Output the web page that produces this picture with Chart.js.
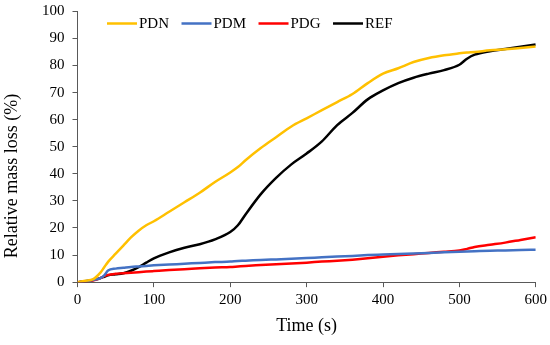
<!DOCTYPE html>
<html>
<head>
<meta charset="utf-8">
<script src="https://cdn.jsdelivr.net/npm/chart.js@4.4.0/dist/chart.umd.min.js"></script>
<style>
  html, body { margin: 0; padding: 0; background: #fff; }
  #wrap { width: 550px; height: 345px; }
</style>
</head>
<body>
<div id="wrap"><canvas id="massChart" width="550" height="345"></canvas></div>
<script>
// time points (s) shared by all series
const times = [0, 10, 20, 30, 35, 40, 50, 60, 70, 80, 90, 100, 120, 140, 160, 180, 200, 210, 220, 240,
  260, 280, 300, 320, 340, 360, 380, 400, 420, 440, 460, 480, 500, 510, 520, 540, 560, 580, 600];

const pdn = [0, 0.5, 1, 3.5, 5.5, 7.5, 10.5, 13.5, 16.5, 19, 21, 22.5, 26, 29.5, 33, 37, 40.5, 42.5, 45, 49.5,
  53.5, 57.5, 60.5, 63.5, 66.5, 69.5, 73.5, 77, 79, 81.3, 82.8, 83.8, 84.5, 84.8, 85, 85.6, 86, 86.5, 87];

const pdm = [0, 0.3, 0.8, 1.5, 2.5, 4.3, 5, 5.3, 5.6, 5.8, 6, 6.2, 6.5, 6.8, 7.1, 7.4, 7.6, 7.8, 7.9, 8.2,
  8.4, 8.6, 8.9, 9.2, 9.5, 9.7, 10, 10.2, 10.4, 10.6, 10.8, 11, 11.2, 11.3, 11.4, 11.6, 11.7, 11.9, 12];

const pdg = [0, 0.2, 0.6, 1.5, 2.2, 2.7, 3.1, 3.3, 3.5, 3.7, 3.9, 4.1, 4.5, 4.8, 5.1, 5.4, 5.6, 5.8, 6, 6.3,
  6.6, 6.9, 7.2, 7.6, 7.9, 8.3, 8.8, 9.4, 9.9, 10.3, 10.8, 11.2, 11.7, 12.3, 13, 13.8, 14.6, 15.6, 16.6];

const ref = [0, 0.3, 0.8, 1.5, 2, 2.5, 2.9, 3.3, 4.2, 5.5, 7.2, 8.8, 11, 12.7, 14, 15.8, 18.5, 21, 25, 32.5,
  38.5, 43.5, 47.5, 52, 58, 62.5, 67.5, 70.8, 73.5, 75.5, 77, 78.3, 80.3, 82.5, 84, 85.3, 86.1, 86.9, 87.8];

const seriesNames = ['PDN', 'PDM', 'PDG', 'REF'];
const seriesColors = ['#FFC000', '#4472C4', '#FF0000', '#000000'];

const FONT = "'Liberation Serif', 'Times New Roman', serif";
const AXIS = '#595959';

function toPoints(vals) {
  return times.map((t, i) => ({ x: t, y: vals[i] }));
}

// legend inside the plot + rotated y title, drawn like the Excel original
const extras = {
  id: 'extras',
  afterDraw(chart) {
    const ctx = chart.ctx;
    const area = chart.chartArea;
    ctx.save();
    ctx.font = '15px ' + FONT;
    ctx.textBaseline = 'middle';
    ctx.textAlign = 'left';
    let x = area.left + 29.5;
    const y = 23.5;
    chart.data.datasets.forEach(ds => {
      ctx.strokeStyle = ds.borderColor;
      ctx.lineWidth = 2.5;
      ctx.beginPath();
      ctx.moveTo(x, y);
      ctx.lineTo(x + 30, y);
      ctx.stroke();
      ctx.fillStyle = '#000';
      ctx.fillText(ds.label, x + 32, y + 1);
      x += 32 + ctx.measureText(ds.label).width + 12.5;
    });

    ctx.font = '18px ' + FONT;
    ctx.textAlign = 'center';
    ctx.translate(12, 176);
    ctx.rotate(-Math.PI / 2);
    ctx.fillText('Relative mass loss (%)', 0, 0);
    ctx.restore();
  }
};

const ctx = document.getElementById('massChart').getContext('2d');
const chart = new Chart(ctx, {
  type: 'line',
  data: {
    datasets: [pdn, pdm, pdg, ref].map((vals, i) => ({
      label: seriesNames[i],
      data: toPoints(vals),
      borderColor: seriesColors[i],
      backgroundColor: seriesColors[i],
      borderWidth: 2.5,
      pointRadius: 0,
      cubicInterpolationMode: 'monotone',
      fill: false
    }))
  },
  options: {
    responsive: false,
    animation: false,
    layout: { padding: { left: 34, right: 0, top: 0, bottom: 8 } },
    plugins: {
      legend: { display: false },
      tooltip: { enabled: false }
    },
    scales: {
      x: {
        type: 'linear',
        min: 0,
        max: 600,
        ticks: { stepSize: 100, color: '#000', padding: 3, font: { family: FONT, size: 15, lineHeight: 1.35 } },
        grid: { drawOnChartArea: false, drawTicks: true, tickLength: 5, color: AXIS },
        border: { color: AXIS, width: 1 },
        title: {
          display: true,
          text: 'Time (s)',
          color: '#000',
          font: { family: FONT, size: 18 },
          padding: { top: 2, bottom: 0 }
        }
      },
      y: {
        min: 0,
        max: 100,
        ticks: { stepSize: 10, color: '#000', padding: 8, font: { family: FONT, size: 15, lineHeight: 0.45 } },
        grid: { drawOnChartArea: false, drawTicks: true, tickLength: 5, color: AXIS },
        border: { color: AXIS, width: 1 }
      }
    }
  },
  plugins: [extras]
});
</script>
</body>
</html>
